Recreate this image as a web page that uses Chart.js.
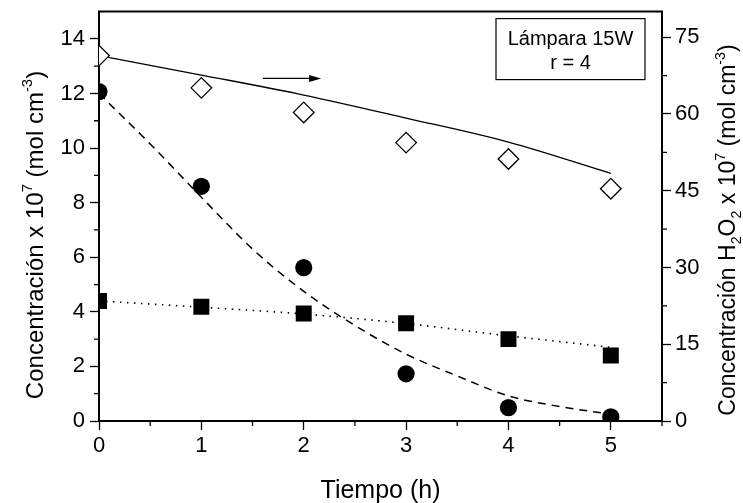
<!DOCTYPE html>
<html>
<head>
<meta charset="utf-8">
<script src="https://cdn.jsdelivr.net/npm/chart.js@4.4.1/dist/chart.umd.min.js"></script>
<style>
  html, body { margin: 0; padding: 0; background: #fff; }
  canvas { display: block; }
</style>
</head>
<body>
<canvas id="grafico" width="743" height="503"></canvas>
<script>
// Datos medidos (eje izquierdo: x 10^7 mol cm^-3)
const tiempos = [0, 1, 2, 3, 4, 5];
const circulos = [12.07, 8.6, 5.62, 1.73, 0.49, 0.15];
const cuadrados = [4.4, 4.19, 3.94, 3.58, 3.0, 2.4];
// H2O2 (eje derecho)
const rombos = [71.4, 65.1, 60.3, 54.4, 51.2, 45.4];

// Curvas de ajuste
const tiemposAjuste = [0, 0.5, 1, 1.5, 2, 2.5, 3, 3.5, 4, 4.5, 5];
const ajusteCirculos = [12.0, 10.15, 8.2, 6.3, 4.75, 3.5, 2.45, 1.65, 0.92, 0.53, 0.25];
const ajusteCuadrados = [4.4, 4.17, 3.92, 3.57, 3.12, 2.7];
const ajusteRombos = [71.4, 67.6, 63.7, 59.2, 54.5, 48.4];

// Marcas de los ejes
const ticksX = [0, 1, 2, 3, 4, 5];
const ticksMenoresX = [0.5, 1.5, 2.5, 3.5, 4.5, 5.5];
const ticksIzq = [0, 2, 4, 6, 8, 10, 12, 14];
const ticksMenoresIzq = [1, 3, 5, 7, 9, 11, 13];
const ticksDer = [0, 15, 30, 45, 60, 75];
const ticksMenoresDer = [7.5, 22.5, 37.5, 52.5, 67.5];

const textoRecuadro = ["Lámpara 15W", "r = 4"];
const flecha = { desde: 1.6, hasta: 2.17, y: 12.55 }; // en unidades del eje izquierdo

const FUENTE = "'Liberation Sans', Arial, Helvetica, sans-serif";

function pares(xs, ys) {
    return xs.map((x, i) => ({ x: x, y: ys[i] }));
}

function fijarTicks(lista) {
    return function (scale) {
        scale.ticks = lista.map(v => ({ value: v }));
    };
}

// tamaño fijo del eje y sin el relleno que Chart.js añade por las etiquetas
function fijarTamano(prop, valor) {
    return function (s) {
        s[prop] = valor;
        s.paddingTop = 0; s.paddingBottom = 0;
        s.paddingLeft = 0; s.paddingRight = 0;
    };
}

// Texto con superíndices / subíndices, centrado en (0,0) sobre la línea base
function textoRico(ctx, partes, size) {
    let total = 0;
    partes.forEach(p => {
        p.size = (p.sup || p.sub) ? size * 0.62 : size;
        ctx.font = p.size + "px " + FUENTE;
        p.w = ctx.measureText(p.t).width;
        total += p.w;
    });
    let x = -total / 2;
    ctx.textAlign = "left";
    ctx.textBaseline = "alphabetic";
    partes.forEach(p => {
        ctx.font = p.size + "px " + FUENTE;
        let dy = p.sup ? -size * 0.45 : (p.sub ? size * 0.28 : 0);
        ctx.fillText(p.t, x, dy);
        x += p.w;
    });
}

const extras = {
    id: "extras",
    beforeDatasetsDraw(chart) {
        // los marcadores se recortan en el borde del área del gráfico
        const a = chart.chartArea;
        chart.ctx.save();
        chart.ctx.beginPath();
        chart.ctx.rect(a.left, a.top, a.right - a.left, a.bottom - a.top);
        chart.ctx.clip();
    },
    afterDatasetsDraw(chart) {
        const ctx = chart.ctx;
        ctx.restore();
        const area = chart.chartArea;
        const sx = chart.scales.x, sy = chart.scales.y, sy2 = chart.scales.y2;
        ctx.save();
        ctx.strokeStyle = "#000";
        ctx.fillStyle = "#000";

        // marco superior
        ctx.lineWidth = 2;
        ctx.beginPath();
        ctx.moveTo(area.left - 1, area.top);
        ctx.lineTo(area.right + 1, area.top);
        ctx.stroke();

        // marcas menores
        ctx.lineWidth = 1.3;
        ctx.beginPath();
        ticksMenoresX.forEach(v => {
            const px = sx.getPixelForValue(v);
            ctx.moveTo(px, area.bottom); ctx.lineTo(px, area.bottom + 5);
        });
        ticksMenoresIzq.forEach(v => {
            const py = sy.getPixelForValue(v);
            ctx.moveTo(area.left, py); ctx.lineTo(area.left - 5, py);
        });
        ticksMenoresDer.forEach(v => {
            const py = sy2.getPixelForValue(v);
            ctx.moveTo(area.right, py); ctx.lineTo(area.right + 5, py);
        });
        ctx.stroke();

        // flecha hacia el eje derecho
        const x1 = sx.getPixelForValue(flecha.desde);
        const x2 = sx.getPixelForValue(flecha.hasta);
        const fy = sy.getPixelForValue(flecha.y);
        ctx.lineWidth = 1.3;
        ctx.beginPath();
        ctx.moveTo(x1, fy); ctx.lineTo(x2 - 8, fy);
        ctx.stroke();
        ctx.beginPath();
        ctx.moveTo(x2, fy); ctx.lineTo(x2 - 12, fy - 3.5); ctx.lineTo(x2 - 12, fy + 3.5);
        ctx.closePath();
        ctx.fill();

        // recuadro
        const rx = area.right - 166, ry = area.top + 7, rw = 149, rh = 61;
        ctx.fillStyle = "#fff";
        ctx.fillRect(rx, ry, rw, rh);
        ctx.lineWidth = 1.2;
        ctx.strokeRect(rx, ry, rw, rh);
        ctx.fillStyle = "#000";
        ctx.font = "20px " + FUENTE;
        ctx.textAlign = "center";
        ctx.textBaseline = "alphabetic";
        ctx.fillText(textoRecuadro[0], rx + rw / 2, ry + 26);
        ctx.fillText(textoRecuadro[1], rx + rw / 2, ry + 50);

        // títulos de los ejes
        ctx.save();
        ctx.translate(area.left - 56, 235);
        ctx.rotate(-Math.PI / 2);
        textoRico(ctx, [
            { t: "Concentración x 10" }, { t: "7", sup: true },
            { t: " (mol cm" }, { t: "-3", sup: true }, { t: ")" }
        ], 24);
        ctx.restore();

        ctx.save();
        ctx.translate(area.right + 73, 230);
        ctx.rotate(-Math.PI / 2);
        textoRico(ctx, [
            { t: "Concentración H" }, { t: "2", sub: true }, { t: "O" }, { t: "2", sub: true },
            { t: " x 10" }, { t: "7", sup: true },
            { t: " (mol cm" }, { t: "-3", sup: true }, { t: ")" }
        ], 23);
        ctx.restore();

        ctx.save();
        ctx.translate((area.left + area.right) / 2, 498);
        textoRico(ctx, [{ t: "Tiempo (h)" }], 25);
        ctx.restore();

        ctx.restore();
    }
};

const ejeComun = {
    type: "linear",
    grid: { drawOnChartArea: false, tickLength: 9, tickColor: "#000", tickWidth: 1.3 },
    border: { color: "#000", width: 2 },
    ticks: { color: "#000", font: { family: FUENTE, size: 22 } }
};

new Chart(document.getElementById("grafico"), {
    type: "line",
    data: {
        datasets: [
            {
                data: pares(tiempos, circulos), yAxisID: "y", showLine: false,
                pointStyle: "circle", pointRadius: 8.6, backgroundColor: "#000",
                borderColor: "#000", pointBorderWidth: 0
            },
            {
                data: pares(tiempos, cuadrados), yAxisID: "y", showLine: false,
                pointStyle: "rect", pointRadius: 11.3, backgroundColor: "#000",
                borderColor: "#000", pointBorderWidth: 0
            },
            {
                data: pares(tiempos, rombos), yAxisID: "y2", showLine: false,
                pointStyle: "rectRot", pointRadius: 10.3, backgroundColor: "#fff",
                borderColor: "#000", pointBorderWidth: 1.3
            },
            {
                data: pares(tiemposAjuste, ajusteCirculos), yAxisID: "y",
                borderColor: "#000", borderWidth: 1.5, borderDash: [8, 6],
                pointRadius: 0, cubicInterpolationMode: "monotone"
            },
            {
                data: pares(tiempos, ajusteCuadrados), yAxisID: "y",
                borderColor: "#000", borderWidth: 1.6, borderDash: [1.5, 5.5],
                pointRadius: 0, cubicInterpolationMode: "monotone"
            },
            {
                data: pares(tiempos, ajusteRombos), yAxisID: "y2",
                borderColor: "#000", borderWidth: 1.3,
                pointRadius: 0, cubicInterpolationMode: "monotone"
            }
        ]
    },
    options: {
        responsive: false,
        animation: false,
        layout: { padding: { top: 9, left: 0, right: 0, bottom: 0 } },
        plugins: { legend: { display: false }, tooltip: { enabled: false } },
        scales: {
            x: Object.assign({}, ejeComun, {
                position: "bottom", min: 0, max: 5.5,
                afterBuildTicks: fijarTicks(ticksX),
                afterFit: fijarTamano("height", 82),
                ticks: Object.assign({}, ejeComun.ticks, { padding: 3 })
            }),
            y: Object.assign({}, ejeComun, {
                position: "left", min: 0, max: 15,
                afterBuildTicks: fijarTicks(ticksIzq),
                afterFit: fijarTamano("width", 99),
                ticks: Object.assign({}, ejeComun.ticks, { padding: 5 })
            }),
            y2: Object.assign({}, ejeComun, {
                position: "right", min: 0, max: 80,
                afterBuildTicks: fijarTicks(ticksDer),
                afterFit: fijarTamano("width", 81),
                ticks: Object.assign({}, ejeComun.ticks, { padding: 4 })
            })
        }
    },
    plugins: [extras]
});
</script>
</body>
</html>
